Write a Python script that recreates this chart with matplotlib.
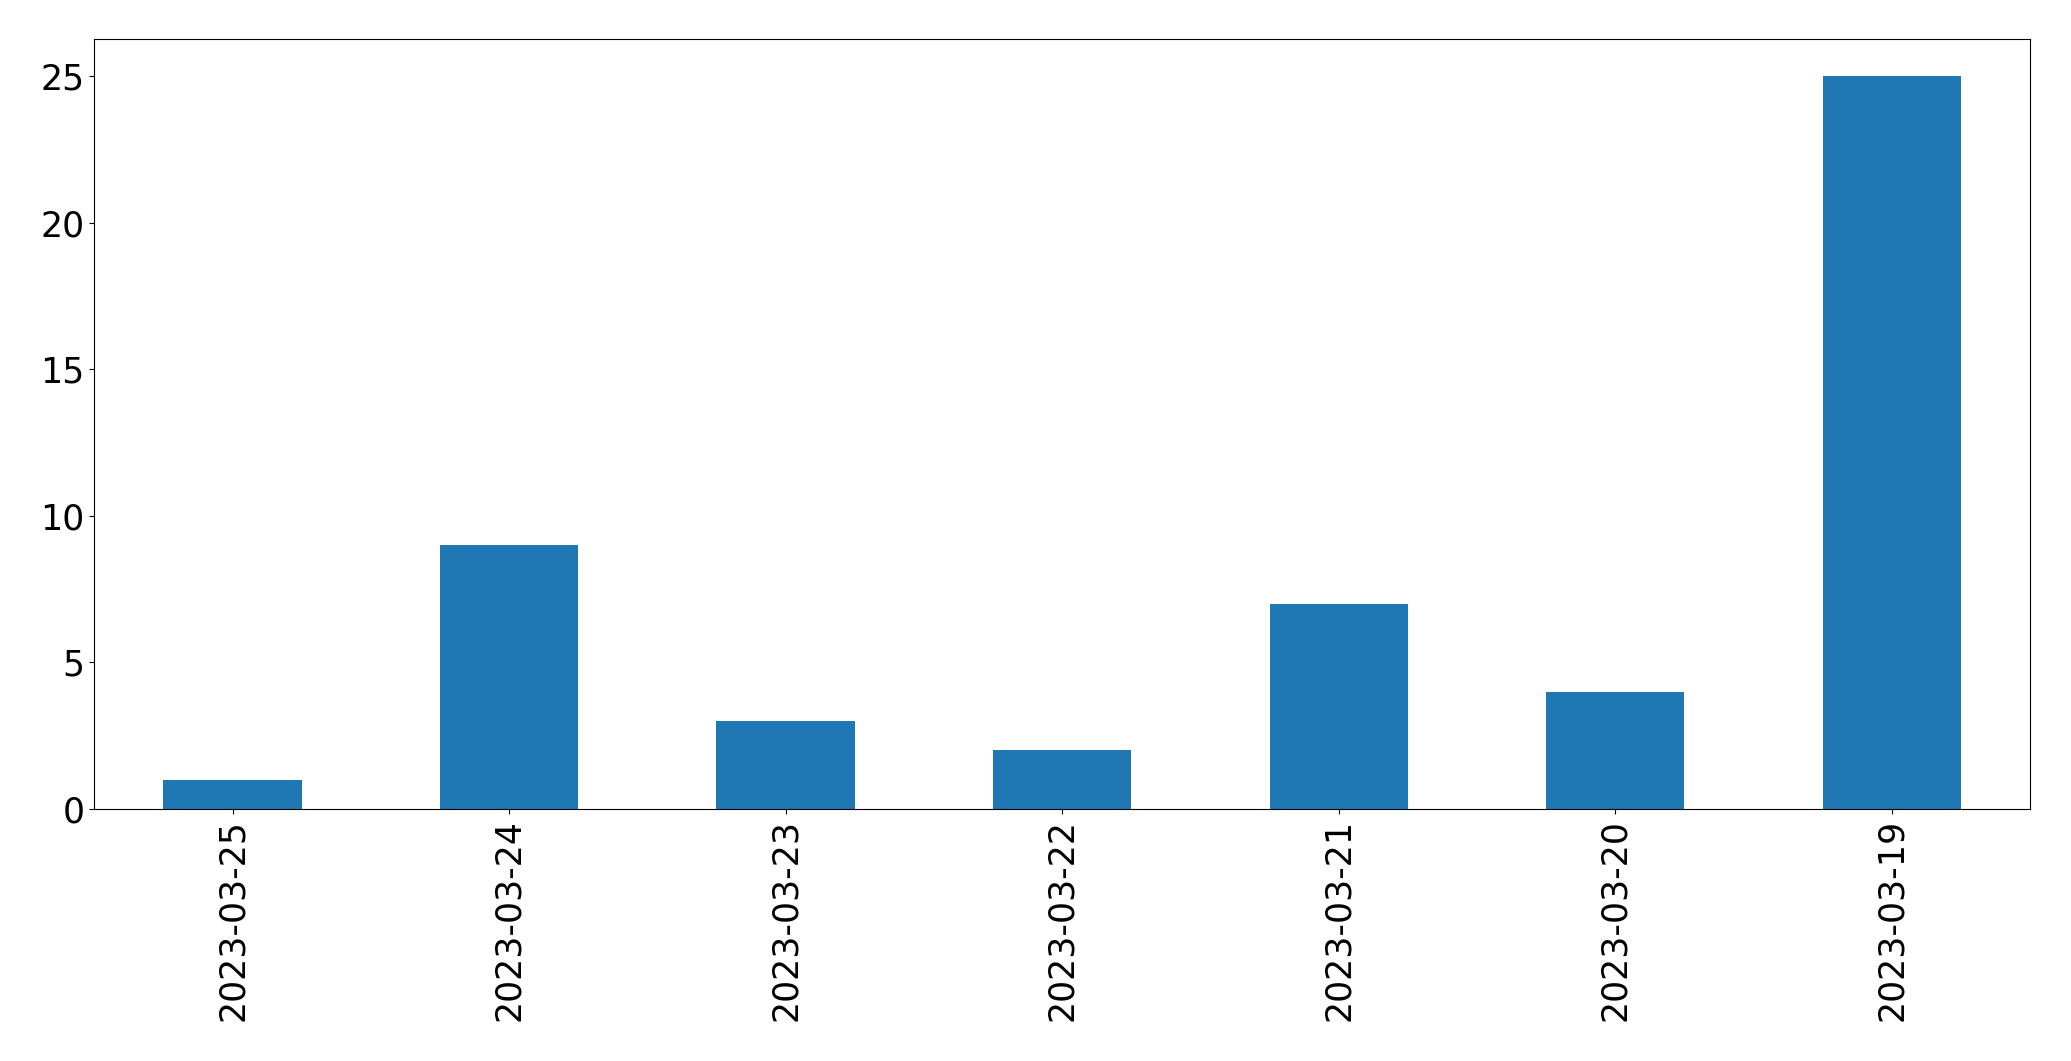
import matplotlib
matplotlib.use("Agg")
import matplotlib.pyplot as plt
import numpy as np

dates = ["2023-03-25", "2023-03-24", "2023-03-23", "2023-03-22",
         "2023-03-21", "2023-03-20", "2023-03-19"]
counts = [1, 9, 3, 2, 7, 4, 25]

W, H = 2071, 1061
fig = plt.figure(figsize=(W / 100, H / 100), dpi=100)
ax = fig.add_axes([94.3 / W, 1 - 809 / H, (2030 - 94.3) / W, (809 - 39.3) / H])

x = np.arange(len(dates))
ax.bar(x, counts, width=0.5, color="#1f77b4")
ax.set_xticks(x)
ax.set_xticklabels(dates, rotation=90)
ax.set_xlim(-0.5, len(dates) - 0.5)
ax.set_ylim(0, 26.25)
ax.tick_params(labelsize=25)

fig.savefig("out.png", dpi=100)
